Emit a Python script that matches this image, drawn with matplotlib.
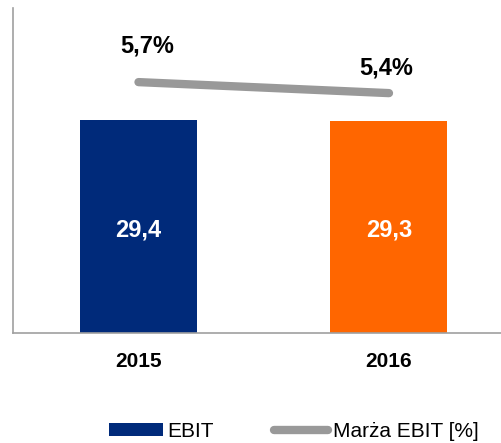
import matplotlib.pyplot as plt
from matplotlib.lines import Line2D
from matplotlib.patches import Patch

plt.rcParams['font.family'] = ['Liberation Sans', 'DejaVu Sans']

years = ["2015", "2016"]
ebit = [29.4, 29.3]
ebit_labels = ["29,4", "29,3"]
margin = [5.7, 5.4]
margin_labels = ["5,7%", "5,4%"]
bar_colors = ["#002a7a", "#ff6600"]

fig = plt.figure(figsize=(5.02, 4.43), dpi=100)
ax = fig.add_axes([0.0259, 0.2483, 0.974, 0.7336])
x = list(range(len(years)))

ax.bar(x, ebit, width=0.467, color=bar_colors)
for i, v in enumerate(ebit):
    ax.text(x[i], v / 2 - 0.5, ebit_labels[i], ha="center", va="center",
            color="white", fontsize=17, fontweight="bold")

ax.set_xlim(-0.501, 1.451)
ax.set_ylim(0, 44.86)
ax.set_yticks([])
ax.set_xticks(x)
ax.set_xticklabels(years, fontsize=15, fontweight="bold")
ax.tick_params(axis="x", length=0, pad=14)
for s in ["top", "right"]:
    ax.spines[s].set_visible(False)
for s in ["left", "bottom"]:
    ax.spines[s].set_color("#a0a0a0")
    ax.spines[s].set_linewidth(1.2)

ax2 = ax.twinx()
ax2.plot(x, margin, color="#999999", linewidth=6, solid_capstyle="round")
ax2.set_ylim(-1.14, 7.72)
ax2.axis("off")
offsets = [(6, 26), (-2, 18)]
for i, v in enumerate(margin):
    ax2.annotate(margin_labels[i], (x[i], v), xytext=offsets[i],
                 textcoords="offset points", ha="center", va="center",
                 fontsize=17, fontweight="bold")

handles = [Patch(facecolor=bar_colors[0], label="EBIT"),
           Line2D([], [], color="#999999", linewidth=6,
                  solid_capstyle="round", label="Marża EBIT [%]")]
fig.legend(handles=handles, loc="center", bbox_to_anchor=(0.585, 0.027),
           ncol=2, frameon=False, fontsize=15, handlelength=2.6,
           handleheight=0.6, handletextpad=0.2, columnspacing=2.9)

fig.savefig("out.png", dpi=100)
